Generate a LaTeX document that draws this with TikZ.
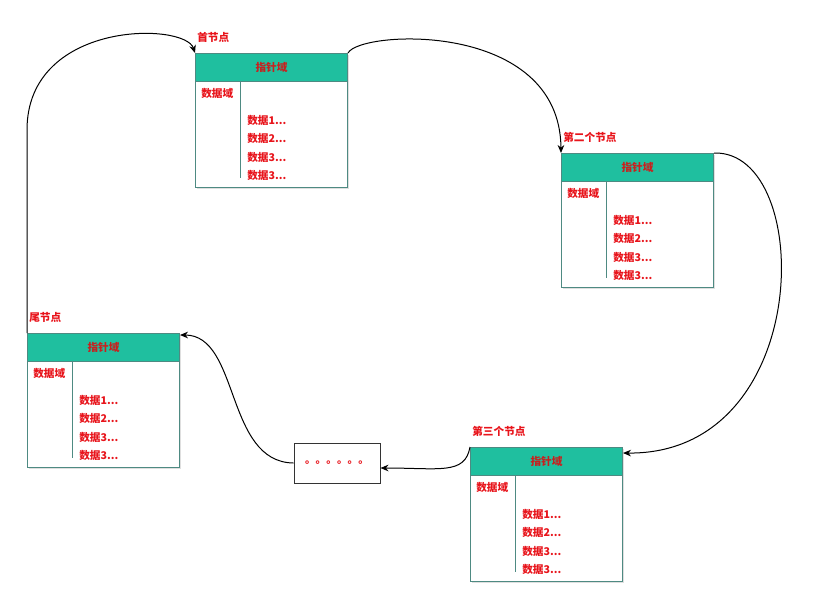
\documentclass[tikz,border=0pt]{standalone}
\usepackage{fontspec}
\setmainfont{Noto Sans CJK SC}
\usetikzlibrary{arrows.meta,shadows}

\definecolor{headteal}{HTML}{1FBF9F}
\definecolor{boxline}{HTML}{4E8A82}
\definecolor{textred}{HTML}{E8141B}
\definecolor{headred}{HTML}{C8201E}

\tikzset{
  listbody/.style={draw=boxline,rectangle,line width=0.75pt,fill=white,
    minimum width=114pt,minimum height=100.5pt,inner sep=0pt,
    drop shadow={shadow xshift=1.2pt,shadow yshift=-1.2pt,opacity=0.25}},
  listhead/.style={draw=boxline,rectangle,line width=0.75pt,fill=headteal,
    minimum width=114pt,minimum height=21pt,inner sep=0pt,
    text=headred,font=\fontsize{8pt}{9.6pt}\selectfont\bfseries},
  fieldtext/.style={inner sep=0pt,anchor=west,text=textred,
    font=\fontsize{8pt}{9.6pt}\selectfont\bfseries},
  nodetitle/.style={inner sep=0pt,anchor=west,text=textred,
    font=\fontsize{8pt}{9.6pt}\selectfont\bfseries},
  divider/.style={draw=boxline,line width=0.75pt},
  link/.style={draw=black,line width=0.75pt,-{Stealth[length=6pt,width=5pt]}},
}

% one list node: name, x, y (pixels), title
\newcommand{\listnode}[4]{%
  \node[listbody,anchor=north west] (#1) at (#2,#3) {};
  \node[listhead,anchor=north west] (#1h) at (#1.north west) {指针域};
  \node[nodetitle] (#1t) at ([xshift=1.5pt,yshift=12pt]#1.north west) {#4};
  \node[fieldtext] (#1d) at ([xshift=4.5pt,yshift=-30pt]#1.north west) {数据域};
  \draw[divider] ([xshift=33.75pt,yshift=-21pt]#1.north west) -- ++(0,-72.75pt);
  \node[fieldtext] (#1a) at ([xshift=39pt,yshift=-50.25pt]#1.north west) {数据1...};
  \node[fieldtext] (#1b) at ([xshift=39pt,yshift=-63.75pt]#1.north west) {数据2...};
  \node[fieldtext] (#1c) at ([xshift=39pt,yshift=-78pt]#1.north west) {数据3...};
  \node[fieldtext] (#1e) at ([xshift=39pt,yshift=-91.5pt]#1.north west) {数据3...};
}

\begin{document}
\begin{tikzpicture}[x=0.75pt,y=-0.75pt]
\useasboundingbox (0,0) rectangle (821,612);

\listnode{first}{195}{53}{首节点}
\listnode{second}{561}{153}{第二个节点}
\listnode{third}{470}{447}{第三个节点}
\listnode{tail}{27}{333}{尾节点}

\node[draw=black!80,rectangle,line width=0.75pt,fill=white,
minimum width=64.5pt,minimum height=30pt,
text=textred,font=\fontsize{8pt}{9.6pt}\selectfont\bfseries](dots) at (337,463){。。。。。。};

\draw [link] (first.north east) .. controls (360,30) and (560,20) .. (second.north west);
\draw [link] (second.north east) .. controls (815,150) and (815,455) .. ([yshift=-4.5pt]third.north east);
\draw [link] (third.north west) .. controls (465,475) and (440,468) .. ([yshift=-3.75pt]dots.east);
\draw [link] (dots.west) .. controls (225,462) and (240,335) .. ([yshift=-1.5pt]tail.north east);
\draw [link] (tail.north west) -- (27,130) .. controls (27,20) and (185,22) .. (first.north west);
\end{tikzpicture}
\end{document}
